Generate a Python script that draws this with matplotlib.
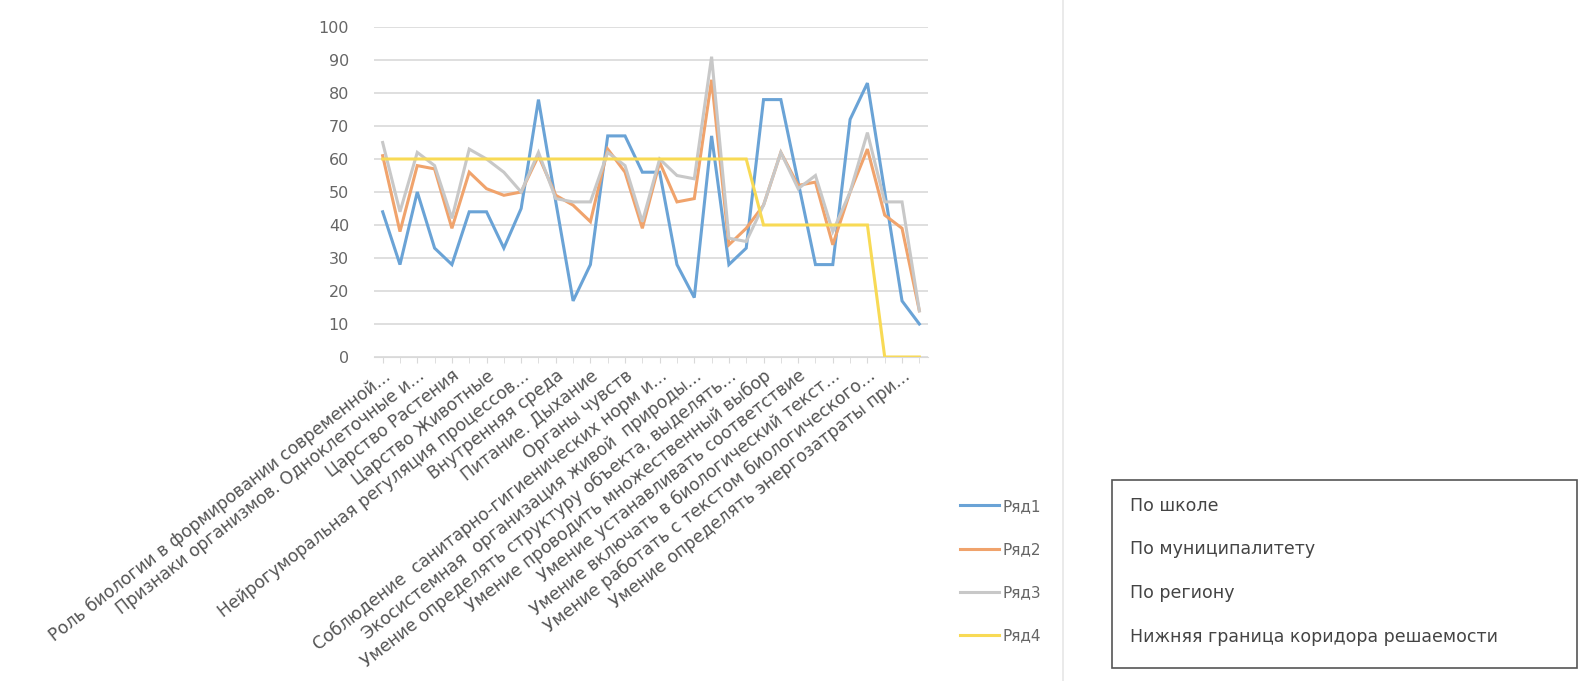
import numpy as np
import matplotlib.pyplot as plt
from matplotlib.lines import Line2D
from matplotlib.patches import Rectangle

# ============================================================
# Данные
# ============================================================

n_cat = 32

tick_labels = [
    "Роль биологии в формировании современной...",
    "Признаки организмов. Одноклеточные и...",
    "Царство Растения",
    "Царство Животные",
    "Нейрогуморальная регуляция процессов...",
    "Внутренняя среда",
    "Питание. Дыхание",
    "Органы чувств",
    "Соблюдение  санитарно-гигиенических норм и...",
    "Экосистемная  организация живой  природы...",
    "Умение определять структуру объекта, выделять...",
    "Умение проводить множественный выбор",
    "Умение устанавливать соответствие",
    "Умение включать в биологический текст...",
    "Умение работать с текстом биологического...",
    "Умение определять энергозатраты при...",
]

school = [44, 28, 50, 33, 28, 44, 44, 33, 45, 78, 47, 17, 28, 67, 67, 56,
          56, 28, 18, 67, 28, 33, 78, 78, 53, 28, 28, 72, 83, 50, 17, 10]
municipality = [61, 38, 58, 57, 39, 56, 51, 49, 50, 61, 49, 46, 41, 63, 56, 39,
                59, 47, 48, 84, 34, 39, 46, 62, 52, 53, 34, 50, 63, 43, 39, 14]
region = [65, 44, 62, 58, 42, 63, 60, 56, 50, 62, 48, 47, 47, 62, 58, 41,
          60, 55, 54, 91, 36, 35, 46, 62, 51, 55, 38, 50, 68, 47, 47, 14]
lower_bound = [60] * 22 + [40] * 7 + [0] * 3

series_names = ["Ряд1", "Ряд2", "Ряд3", "Ряд4"]
box_texts = [
    "По школе",
    "По муниципалитету",
    "По региону",
    "Нижняя граница коридора решаемости",
]
colors = ["#6aa3d6", "#f0a36c", "#c8c8c8", "#f8da55"]

# ============================================================
# Рисунок
# ============================================================

W, H = 1580, 681
fig = plt.figure(figsize=(W / 100, H / 100), dpi=100)
fig.patch.set_facecolor("white")

ax = fig.add_axes([374 / W, 1 - 357 / H, (928 - 374) / W, (357 - 27) / H])

x = np.arange(n_cat)
lines = []
for values, color in zip([school, municipality, region, lower_bound], colors):
    (ln,) = ax.plot(x, values, color=color, lw=2.2, solid_joinstyle="miter")
    lines.append(ln)

ax.set_xlim(-0.5, n_cat - 0.5)
ax.set_ylim(0, 100)
ax.set_yticks(np.arange(0, 101, 10))
ax.grid(axis="y", color="#d9d9d9", lw=1.2)
ax.set_axisbelow(True)
for side in ["top", "right", "left"]:
    ax.spines[side].set_visible(False)
ax.spines["bottom"].set_color("#d9d9d9")
ax.tick_params(axis="y", length=0, labelsize=11.5, labelcolor="#666666", pad=18)
ax.tick_params(axis="x", length=4, color="#d9d9d9", labelsize=12.3,
               labelcolor="#555555", pad=3)

ax.set_xticks(x[::2])
ax.set_xticklabels(tick_labels, rotation=38, ha="right", va="top",
                   rotation_mode="anchor")
ax.set_xticks(x, minor=True)
ax.tick_params(axis="x", which="minor", length=4, color="#d9d9d9")

# Легенда Excel
fig.legend(lines, series_names, loc="upper left",
           bbox_to_anchor=(946 / W, 1 - 485 / H), frameon=False,
           fontsize=11, labelcolor="#666666", handlelength=2.6,
           handletextpad=0.2, labelspacing=1.85)

# Рамка диаграммы
fig.add_artist(Line2D([1063 / W, 1063 / W], [0, 1], color="#e6e6e6", lw=1.2))

# Поясняющая таблица
fig.add_artist(Rectangle((1112 / W, 1 - 668 / H), (1577 - 1112) / W,
                         (668 - 480) / H, fill=False, edgecolor="#555555",
                         lw=1.2))
for i, txt in enumerate(box_texts):
    fig.text(1130 / W, 1 - (506 + 43.5 * i) / H, txt, fontsize=12.5,
             color="#444444", va="center", ha="left")

fig.savefig("out.png", dpi=100)
